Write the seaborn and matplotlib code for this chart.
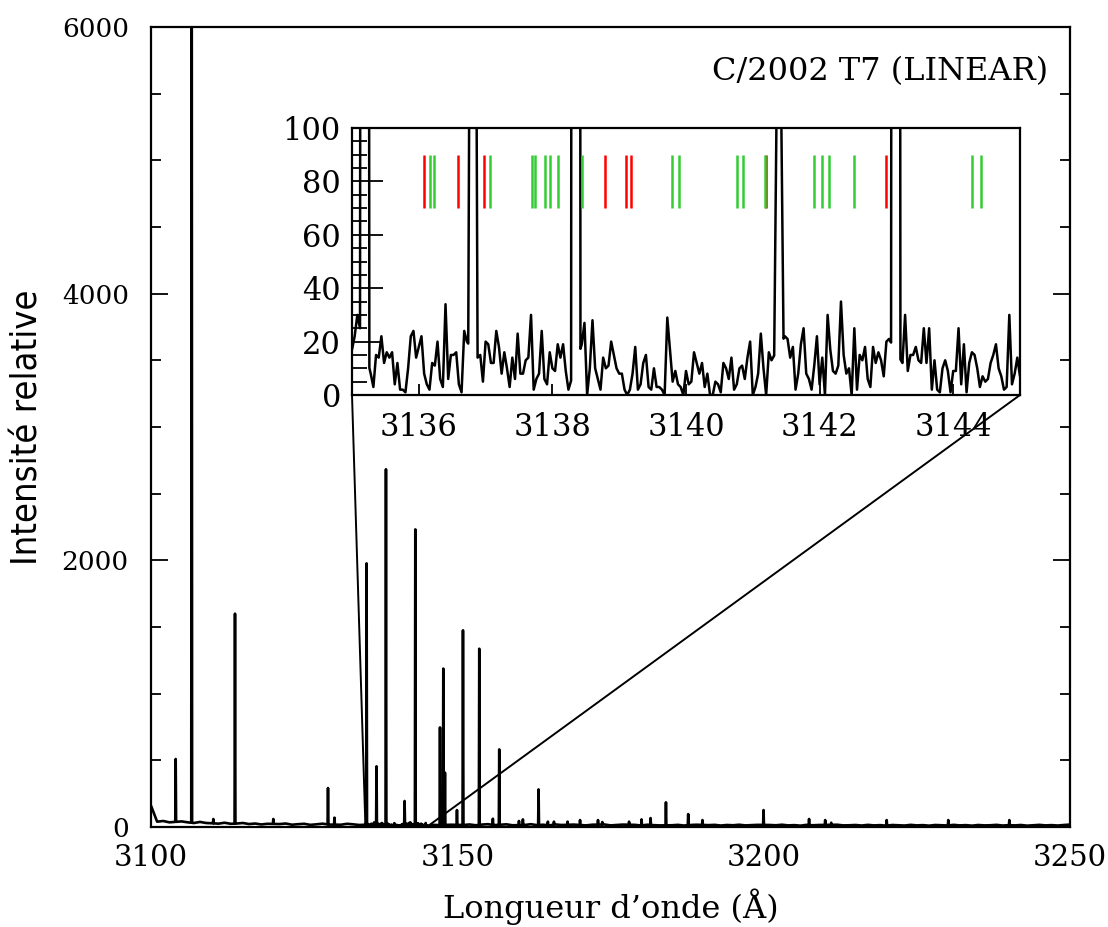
import numpy as np
import pandas as pd
import matplotlib
matplotlib.use("Agg")
import matplotlib.pyplot as plt
import seaborn as sns
from matplotlib.patches import ConnectionPatch
from matplotlib.ticker import MultipleLocator

# ---------------------------------------------------------------- data
# Emission lines: centre wavelength (Angstrom) and peak intensity
line_wl = [3104.03, 3106.64, 3110.17, 3113.71, 3119.96, 3128.89, 3129.95,
           3135.19, 3136.81, 3138.35, 3141.39, 3143.14,
           3147.17, 3147.71, 3147.98, 3149.94, 3150.92, 3153.58, 3155.80,
           3156.84, 3160.06, 3160.70, 3163.26, 3164.78, 3165.77, 3167.99,
           3170.03, 3172.96, 3173.66, 3178.03, 3180.07, 3181.54, 3184.05,
           3187.68, 3190.01, 3199.98, 3207.41, 3210.04, 3211.03, 3220.08,
           3230.13, 3240.10]
line_int = [510, 8000, 60, 1600, 60, 292, 70,
            1977, 455, 2683, 195, 2232,
            747, 1188, 408, 127, 1475, 1337, 62,
            582, 45, 57, 282, 40, 40, 40,
            52, 52, 37, 40, 57, 67, 185,
            97, 52, 127, 60, 52, 32, 52,
            52, 52]

# Continuum level sampled every 1 Angstrom from 3100 to 3250
cont_wl = list(range(3100, 3251))
cont_int = [160, 40, 45, 35, 30, 42, 35, 30, 38, 30,
            28, 25, 32, 24, 26, 30, 22, 26, 19, 24,
            18, 22, 26, 17, 21, 24, 16, 20, 25, 18,
            22, 17, 24, 20, 15, 21, 18, 22, 16, 20,
            14, 19, 23, 15, 18, 21, 16, 14, 20, 17,
            22, 15, 19, 13, 18, 21, 14, 17, 20, 13,
            18, 15, 21, 14, 17, 12, 19, 15, 13, 18,
            16, 12, 17, 14, 19, 12, 15, 18, 13, 16,
            11, 17, 14, 12, 18, 13, 16, 11, 15, 17,
            12, 14, 16, 11, 15, 13, 17, 12, 14, 16,
            11, 15, 13, 17, 12, 14, 10, 16, 13, 15,
            11, 14, 17, 12, 13, 15, 11, 16, 12, 14,
            10, 15, 13, 11, 16, 12, 14, 10, 15, 13,
            11, 16, 12, 14, 10, 15, 12, 13, 16, 11,
            14, 12, 15, 10, 13, 16, 12, 14, 11, 15,
            18]

# High-resolution detail between 3135 and 3145 (0.04 Angstrom sampling)
zoom_int = [17, 22, 30, 25, 20, 20, 15, 8, 3, 15,
            14, 22, 12, 16, 14, 16, 4, 12, 2, 2,
            1, 10, 22, 24, 14, 18, 22, 8, 4, 2,
            12, 11, 20, 6, 3, 34, 6, 15, 15, 16,
            4, 1, 24, 20, 25, 22, 22, 14, 15, 5,
            20, 19, 12, 12, 24, 18, 8, 16, 10, 3,
            14, 6, 23, 8, 8, 13, 14, 30, 2, 6,
            8, 24, 6, 4, 16, 10, 9, 19, 14, 19,
            9, 2, 11, 15, 15, 15, 19, 27, 0, 10,
            28, 10, 6, 2, 14, 10, 11, 20, 15, 10,
            8, 8, 2, 0, 2, 8, 18, 2, 4, 12,
            15, 3, 2, 10, 3, 3, 2, 0, 29, 17,
            5, 9, 4, 3, 0, 9, 4, 5, 16, 12,
            8, 12, 3, 8, 0, 0, 5, 4, 1, 12,
            10, 6, 14, 2, 4, 10, 11, 6, 14, 20,
            0, 3, 8, 23, 10, 0, 16, 13, 16, 12,
            15, 20, 22, 21, 14, 18, 2, 8, 19, 25,
            8, 6, 2, 11, 22, 4, 14, 0, 30, 17,
            9, 8, 11, 35, 15, 8, 10, 0, 25, 2,
            15, 13, 18, 6, 3, 18, 12, 16, 13, 7,
            20, 21, 20, 20, 20, 5, 12, 30, 9, 15,
            15, 18, 13, 12, 25, 12, 25, 2, 13, 2,
            1, 10, 13, 9, 1, 9, 9, 25, 4, 19,
            1, 12, 16, 15, 10, 3, 7, 5, 6, 12,
            15, 19, 10, 7, 2, 3, 30, 4, 8, 14,
            7]

# Line identifications marked in the zoomed panel
ident_red = [3136.08, 3136.59, 3136.98, 3138.78, 3139.10, 3139.17,
             3141.205, 3143.00]
ident_green = [3136.17, 3136.23, 3137.06, 3137.69, 3137.74, 3137.89,
               3137.96, 3138.08, 3138.45, 3139.79, 3139.89, 3140.77,
               3140.86, 3141.19, 3141.91, 3142.03, 3142.14, 3142.51,
               3144.28, 3144.42]

main_xticks = [3100, 3150, 3200, 3250]
main_yticks = [0, 2000, 4000, 6000]
zoom_xticks = [3136, 3138, 3140, 3142, 3144]
zoom_yticks = [0, 20, 40, 60, 80, 100]

title = "C/2002 T7 (LINEAR)"
xlabel = "Longueur d\u2019onde (\u00c5)"
ylabel = "Intensit\u00e9 relative"

# ---------------------------------------------------------------- spectrum table
HALF = 0.07  # half width of each line profile at its foot (Angstrom)
cont = pd.DataFrame({"wl": np.array(cont_wl, float), "I": np.array(cont_int, float)})
cont = cont[(cont.wl < 3135) | (cont.wl > 3145)]
fine = pd.DataFrame({"wl": np.linspace(3135.0, 3145.0, len(zoom_int)),
                     "I": np.array(zoom_int, float)})
pts = pd.concat([cont, fine]).sort_values("wl")
centres = np.array(line_wl)
keep = np.ones(len(pts), bool)
for c in centres:
    keep &= np.abs(pts.wl.values - c) > HALF
pts = pts[keep]
feet_wl = np.concatenate([centres - HALF, centres + HALF])
feet = pd.DataFrame({"wl": feet_wl, "I": np.interp(feet_wl, pts.wl, pts.I)})
apex = pd.DataFrame({"wl": centres, "I": np.array(line_int, float)})
spec = pd.concat([pts, feet, apex]).sort_values("wl").reset_index(drop=True)

# ---------------------------------------------------------------- figure
sns.set_theme(style="ticks")
plt.rcParams["font.family"] = ["DejaVu Serif"]
plt.rcParams.update({
    "axes.linewidth": 1.6,
    "text.color": "black",
    "axes.labelcolor": "black",
    "xtick.color": "black",
    "ytick.color": "black",
    "axes.edgecolor": "black",
})

fig = plt.figure(figsize=(11.08, 9.27), dpi=100)
ax = fig.add_axes([151 / 1108, 1 - 827 / 927, 919 / 1108, 800 / 927])
sns.lineplot(data=spec, x="wl", y="I", ax=ax, color="black", lw=1.9,
             sort=False, estimator=None)
ax.set_xlim(3100, 3250)
ax.set_ylim(0, 6000)
ax.set_xticks(main_xticks)
ax.set_yticks(main_yticks)
ax.yaxis.set_minor_locator(MultipleLocator(500))
ax.tick_params(axis="both", which="both", direction="in", right=True,
               width=1.3)
ax.tick_params(axis="both", which="major", length=12)
ax.tick_params(axis="y", which="minor", length=7)
ax.tick_params(axis="x", which="major", labelsize=21, pad=12)
ax.tick_params(axis="y", which="major", labelsize=19, pad=16)
ax.set_xlabel(xlabel, fontsize=23, labelpad=12)
ax.set_ylabel(ylabel, fontsize=26, labelpad=12,
              family=["DejaVu Sans"], fontstretch="condensed",
              fontweight="light")
ax.text(0.976, 0.944, title, transform=ax.transAxes, ha="right", va="center",
        fontsize=23)

# zoomed panel
axz = fig.add_axes([352 / 1108, 1 - 395 / 927, 668 / 1108, 267 / 927])
axz.set_facecolor("white")
sns.lineplot(data=spec, x="wl", y="I", ax=axz, color="black", lw=1.8,
             sort=False, estimator=None)
axz.vlines(ident_red, 70, 90, color="#ff0000", lw=1.8)
axz.vlines(ident_green, 70, 90, color="#33cc33", lw=1.8)
axz.set_xlim(3135, 3145)
axz.set_ylim(0, 100)
axz.set_xticks(zoom_xticks)
axz.set_yticks(zoom_yticks)
axz.yaxis.set_minor_locator(MultipleLocator(5))
axz.tick_params(axis="both", which="both", direction="in", width=1.3)
axz.tick_params(axis="y", which="major", length=22, labelsize=22, pad=8)
axz.tick_params(axis="y", which="minor", length=11)
axz.tick_params(axis="x", which="major", length=8, labelsize=22, pad=12)
axz.set_xlabel("")
axz.set_ylabel("")
for sp in axz.spines.values():
    sp.set_linewidth(1.6)

# connectors from the zoomed panel to the wavelength range it shows
for xw in (3135, 3145):
    con = ConnectionPatch(xyA=(xw, 0), coordsA=axz.transData,
                          xyB=(xw, 0), coordsB=ax.transData,
                          color="black", lw=1.4)
    fig.add_artist(con)

fig.savefig("out.png", dpi=100)
